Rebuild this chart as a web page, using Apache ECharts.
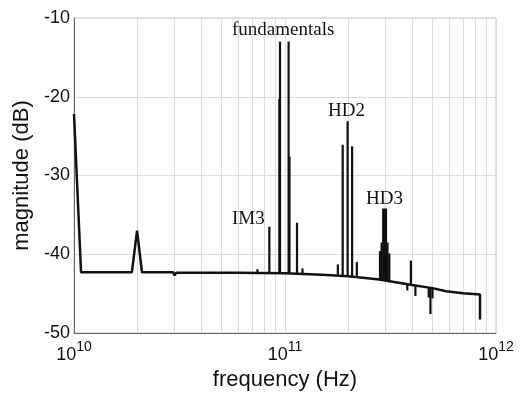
<!DOCTYPE html>
<html>
<head>
<meta charset="utf-8">
<script src="https://cdn.jsdelivr.net/npm/echarts@6/dist/echarts.min.js"></script>
<style>
  html, body { margin: 0; padding: 0; background: #fff; }
  #chart { width: 520px; height: 396px; }
</style>
</head>
<body>
<div id="chart"></div>
<script>
// floor of the spectrum (noise + the 20 GHz bump)
const floorFreq = [1e10, 1.08e10, 1.88e10, 1.99e10, 2.1e10, 2.95e10, 3.0e10, 3.05e10,
  6e10, 1e11, 1.5e11, 2e11, 2.8e11, 4e11, 5e11, 5.8e11, 7e11, 8.4e11, 8.4e11];
const floorDb = [-22.2, -42.3, -42.3, -37.0, -42.3, -42.3, -42.7, -42.35,
  -42.35, -42.4, -42.6, -42.8, -43.2, -43.9, -44.3, -44.7, -44.95, -45.1, -48.3];

// spectral lines: frequency, bottom and top of each vertical stroke (dB)
const spikeFreq = [7.4e10, 8.43e10, 9.4e10, 9.47e10, 1.04e11, 1.05e11, 1.14e11, 1.21e11,
  1.78e11, 1.877e11, 1.98e11, 2.08e11, 2.19e11,
  2.82e11, 2.87e11, 2.92e11, 2.96e11, 3.01e11, 3.06e11, 3.12e11,
  3.8e11, 3.95e11, 4.15e11, 4.8e11, 4.89e11, 5.0e11];
const spikeLow = [-42.35, -42.35, -42.4, -42.4, -42.4, -42.4, -42.5, -42.5,
  -42.7, -42.7, -42.8, -42.8, -42.8,
  -43.2, -43.2, -43.2, -43.2, -43.3, -43.3, -43.3,
  -44.6, -43.9, -45.3, -45.5, -47.6, -45.6];
const spikeHigh = [-41.9, -36.5, -20.3, -13, -13, -27.6, -36.0, -41.8,
  -41.3, -26.1, -23.1, -26.3, -41.0,
  -39.6, -38.5, -34.2, -34.2, -34.2, -38.5, -39.9,
  -43.8, -40.8, -44.0, -44.2, -44.3, -44.3];

// minor log grid (2..9 per decade)
const minorGrid = [2e10, 3e10, 4e10, 5e10, 6e10, 7e10, 8e10, 9e10,
  2e11, 3e11, 4e11, 5e11, 6e11, 7e11, 8e11, 9e11];

const yTicks = [-50, -40, -30, -20, -10];

const floorData = floorFreq.map((f, i) => [f, floorDb[i]]);
const spikeData = spikeFreq.map((f, i) => [f, spikeLow[i], spikeHigh[i]]);

const chart = echarts.init(document.getElementById('chart'));

const option = {
  animation: false,
  backgroundColor: '#fff',
  grid: {
    left: 74, right: 24, top: 18, bottom: 60,
    show: true, borderColor: '#c4c4c4', borderWidth: 1
  },
  xAxis: {
    type: 'log',
    logBase: 10,
    min: 1e10,
    max: 1e12,
    name: 'frequency (Hz)',
    nameLocation: 'middle',
    nameGap: 36,
    nameTextStyle: { fontFamily: 'Liberation Sans', fontSize: 22, color: '#111' },
    axisLine: { show: true, lineStyle: { color: '#666', width: 1 } },
    axisTick: { show: false },
    splitLine: { show: true, lineStyle: { color: '#dcdcdc', width: 1 } },
    axisLabel: {
      margin: 7,
      formatter: (v) => '{b|10}{s|' + Math.round(Math.log10(v)) + '}',
      rich: {
        b: { fontFamily: 'Liberation Sans', fontSize: 18, color: '#111', lineHeight: 24, verticalAlign: 'bottom' },
        s: { fontFamily: 'Liberation Sans', fontSize: 14, color: '#111', lineHeight: 24, verticalAlign: 'top' }
      }
    }
  },
  yAxis: {
    type: 'value',
    min: yTicks[0],
    max: yTicks[yTicks.length - 1],
    interval: 10,
    name: 'magnitude (dB)',
    nameLocation: 'middle',
    nameGap: 32,
    nameRotate: 90,
    nameTextStyle: { fontFamily: 'Liberation Sans', fontSize: 22, color: '#111' },
    axisLine: { show: true, lineStyle: { color: '#666', width: 1 } },
    axisTick: { show: false },
    splitLine: { show: true, lineStyle: { color: '#dcdcdc', width: 1 } },
    axisLabel: { fontFamily: 'Liberation Sans', fontSize: 18, color: '#111', margin: 4 }
  },
  series: [
    {
      type: 'line',
      data: floorData,
      symbol: 'none',
      lineStyle: { color: '#111', width: 2.5 },
      z: 3,
      markLine: {
        silent: true,
        symbol: 'none',
        label: { show: false },
        lineStyle: { color: '#dcdcdc', width: 1, type: 'solid' },
        data: minorGrid.map(f => ({ xAxis: f })),
        z: 1
      }
    },
    {
      type: 'custom',
      data: spikeData,
      encode: { x: 0, y: [1, 2] },
      z: 4,
      renderItem: (params, api) => {
        const p1 = api.coord([api.value(0), api.value(1)]);
        const p2 = api.coord([api.value(0), api.value(2)]);
        return {
          type: 'line',
          shape: { x1: p1[0], y1: p1[1], x2: p2[0], y2: p2[1] },
          style: { stroke: '#111', lineWidth: 2.2 }
        };
      }
    }
  ],
  graphic: [
    { type: 'text', left: 232, top: 21, z: 10, style: { text: 'fundamentals', font: '19px "Liberation Serif"', fill: '#111' } },
    { type: 'text', left: 328, top: 102, z: 10, style: { text: 'HD2', font: '19px "Liberation Serif"', fill: '#111' } },
    { type: 'text', left: 232, top: 210, z: 10, style: { text: 'IM3', font: '19px "Liberation Serif"', fill: '#111' } },
    { type: 'text', left: 366, top: 190, z: 10, style: { text: 'HD3', font: '19px "Liberation Serif"', fill: '#111' } }
  ]
};

chart.setOption(option);
</script>
</body>
</html>
